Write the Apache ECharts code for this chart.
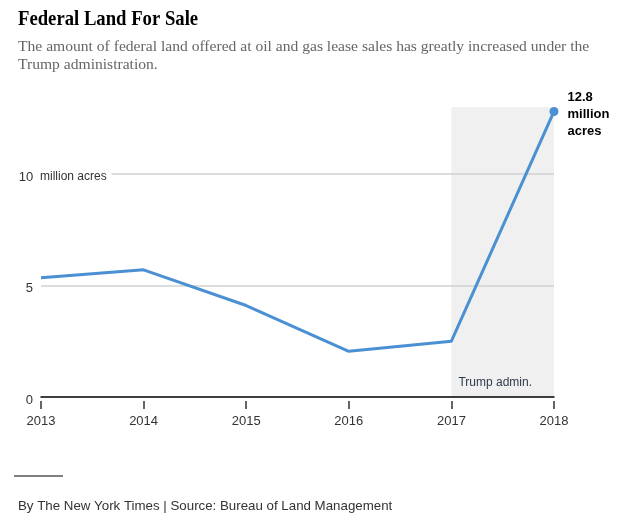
<!DOCTYPE html>
<html>
<head>
<meta charset="utf-8">
<script src="https://cdn.jsdelivr.net/npm/echarts@6/dist/echarts.min.js"></script>
<style>
html,body{margin:0;padding:0;background:#fff;}
#c{width:623px;height:523px;}
</style>
</head>
<body>
<div id="c"></div>
<script>
const years = ['2013', '2014', '2015', '2016', '2017', '2018'];
const acres = [5.35, 5.7, 4.1, 2.05, 2.5, 12.8];
const unitLabel = 'million acres';
const shadeStart = '2017';
const shadeEnd = '2018';
const shadeLabel = 'Trump admin.';

const chart = echarts.init(document.getElementById('c'));
const lastIdx = acres.length - 1;
const blue = '#4A90D2';

// one colour per interval between consecutive years; shade the Trump interval
const intervalColors = years.slice(1).map(function (y, i) {
  return years[i] === shadeStart ? '#f0f0f0' : 'rgba(255,255,255,0)';
});

chart.setOption({
  animation: false,
  backgroundColor: '#fff',
  title: [
    {
      text: 'The amount of federal land offered at oil and gas lease sales has greatly increased under the\nTrump administration.',
      left: 13, top: 33,
      textStyle: {fontFamily: 'Liberation Serif', fontWeight: 'normal', fontSize: 15.6, lineHeight: 18, color: '#666'}
    },
    {
      text: 'By The New York Times | Source: Bureau of Land Management',
      left: 13, top: 495,
      textStyle: {fontFamily: 'Liberation Sans', fontWeight: 'normal', fontSize: 13.3, color: '#333'}
    }
  ],
  graphic: [
    {
      type: 'text', left: 18, top: 9, scaleX: 0.89, originX: 0,
      style: {text: 'Federal Land For Sale', fontFamily: 'Liberation Serif', fontWeight: 'bold', fontSize: 21, fill: '#000'}
    },
    {type: 'line', shape: {x1: 14, y1: 476, x2: 63, y2: 476}, style: {stroke: '#000', lineWidth: 1}}
  ],
  grid: [
    {left: 41, right: 69, top: 107, bottom: 126},
    {left: 41, right: 69, top: 111, bottom: 122}
  ],
  xAxis: [
    {
      type: 'category', gridIndex: 0, data: years, boundaryGap: false, z: 0,
      axisLine: {show: true, lineStyle: {color: '#000', width: 1.5}},
      axisTick: {show: false}, axisLabel: {show: false}, splitLine: {show: false},
      splitArea: {show: true, areaStyle: {color: intervalColors}}
    },
    {
      type: 'category', gridIndex: 1, data: years, boundaryGap: false,
      axisLine: {show: false},
      axisTick: {show: true, length: 8, lineStyle: {color: '#333', width: 1.5}},
      axisLabel: {show: true, margin: 14, fontFamily: 'Liberation Sans', fontSize: 13, color: '#333'},
      splitLine: {show: false}
    }
  ],
  yAxis: [
    {
      type: 'value', gridIndex: 0, min: 0, max: 13, interval: 5, z: 1,
      axisLine: {show: false}, axisTick: {show: false},
      splitLine: {show: true, showMinLine: false, showMaxLine: false, lineStyle: {color: '#d2d2d2', width: 1.5}},
      axisLabel: {
        show: true, showMaxLabel: false, align: 'left', margin: 22,
        formatter: function (v) {
          if (v === 10) return '{n|' + v + '}{u|' + unitLabel + '}';
          return '{n|' + v + '}';
        },
        rich: {
          n: {width: 14, align: 'right', fontFamily: 'Liberation Sans', fontSize: 13, color: '#333', padding: [6, 0, 0, 0]},
          u: {fontFamily: 'Liberation Sans', fontSize: 12, color: '#333', backgroundColor: '#fff', padding: [6, 5, 0, 7]}
        }
      }
    },
    {type: 'value', gridIndex: 1, min: 0, max: 13, show: false}
  ],
  series: [
    {
      type: 'line', xAxisIndex: 0, yAxisIndex: 0,
      data: acres,
      symbol: 'none',
      lineStyle: {color: blue, width: 3},
      z: 3,
      markArea: {
        silent: true,
        itemStyle: {color: 'rgba(0,0,0,0)'},
        label: {
          show: true, position: 'insideBottomLeft', formatter: shadeLabel,
          offset: [2, -3],
          fontFamily: 'Liberation Sans', fontSize: 12, color: '#2f3b4a'
        },
        data: [[{xAxis: shadeStart, name: shadeLabel}, {xAxis: shadeEnd}]]
      },
      markPoint: {
        silent: true,
        symbol: 'circle', symbolSize: 9,
        itemStyle: {color: blue},
        label: {
          show: true, position: 'right', distance: 9, offset: [0, 3],
          fontFamily: 'Liberation Sans', fontWeight: 'bold', fontSize: 13, lineHeight: 17, color: '#000',
          formatter: function (p) { return p.value + '\nmillion\nacres'; }
        },
        data: [{coord: [years[lastIdx], acres[lastIdx]], value: acres[lastIdx]}]
      }
    }
  ]
});
</script>
</body>
</html>
